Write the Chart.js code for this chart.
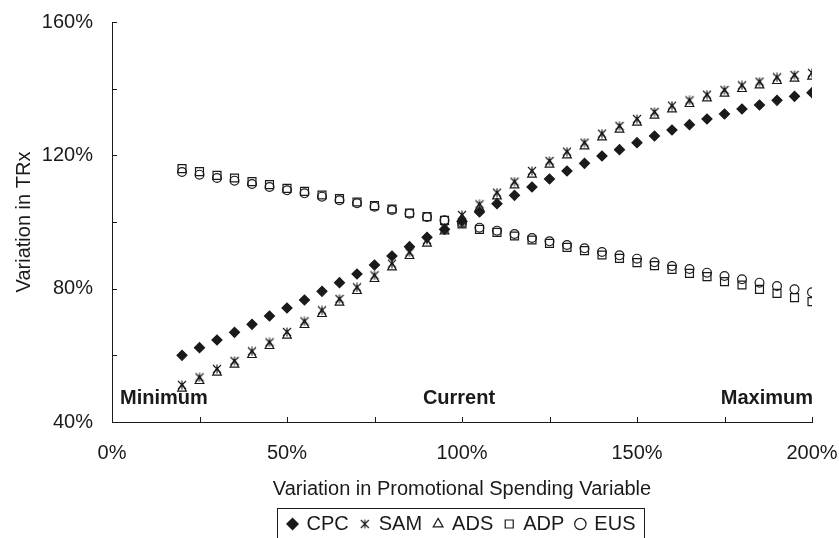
<!DOCTYPE html>
<html>
<head>
<meta charset="utf-8">
<script src="https://cdn.jsdelivr.net/npm/chart.js@4.4.1/dist/chart.umd.min.js"></script>
<style>
  html, body { margin: 0; padding: 0; background: #fff; }
  #wrap { width: 839px; height: 538px; }
</style>
</head>
<body>
<div id="wrap"><canvas id="chart" width="839" height="538"></canvas></div>
<script>
// --- Data (percent values) ---
const SPEND_LEVELS = [20, 25, 30, 35, 40, 45, 50, 55, 60, 65, 70, 75, 80, 85, 90, 95, 100,
  105, 110, 115, 120, 125, 130, 135, 140, 145, 150, 155, 160, 165, 170, 175, 180, 185, 190, 195, 200];

const CPC = [60.0, 62.3, 64.6, 66.9, 69.3, 71.8, 74.2, 76.6, 79.2, 81.8, 84.4, 87.1, 89.8, 92.6, 95.4, 97.8, 100.2,
  103.0, 105.5, 108.0, 110.5, 112.9, 115.3, 117.6, 119.8, 121.7, 123.8, 125.8, 127.6, 129.2, 130.9, 132.4, 133.9, 135.1, 136.5, 137.7, 138.8];

const SAM = [51.1, 53.4, 55.9, 58.3, 61.2, 63.9, 67.0, 70.2, 73.5, 76.9, 80.4, 84.0, 87.5, 90.9, 94.6, 98.3, 102.1,
  105.3, 108.8, 112.1, 115.3, 118.3, 121.1, 123.8, 126.5, 128.8, 130.9, 133.0, 134.9, 136.5, 138.2, 139.6, 141.0, 142.1, 143.4, 144.1, 144.7];

const ADS = [50.0, 52.3, 54.8, 57.2, 60.1, 62.8, 65.9, 69.1, 72.4, 75.8, 79.3, 82.9, 86.4, 89.8, 93.5, 97.2, 101.0,
  104.2, 107.7, 111.0, 114.2, 117.2, 120.0, 122.7, 125.4, 127.7, 129.8, 131.9, 133.8, 135.4, 137.1, 138.5, 139.9, 141.0, 142.3, 143.0, 143.6];

const ADP = [116.0, 115.1, 114.0, 113.2, 112.1, 111.2, 110.1, 109.2, 108.1, 107.0, 106.0, 104.9, 103.9, 102.7, 101.6, 100.5, 99.4,
  97.8, 96.9, 95.8, 94.6, 93.6, 92.4, 91.4, 90.1, 89.1, 87.8, 86.9, 85.8, 84.6, 83.6, 82.1, 81.1, 79.8, 78.6, 77.3, 76.1];

const EUS = [115.0, 114.2, 113.2, 112.4, 111.4, 110.5, 109.5, 108.6, 107.6, 106.5, 105.6, 104.6, 103.6, 102.5, 101.5, 100.5, 99.8,
  98.3, 97.4, 96.4, 95.2, 94.2, 93.1, 92.1, 91.0, 90.0, 89.0, 87.9, 86.8, 85.9, 84.8, 83.8, 82.8, 81.8, 80.8, 79.8, 78.9];

const SERIES_NAMES = ['CPC', 'SAM', 'ADS', 'ADP', 'EUS'];

// region labels drawn inside the plot: [text, x value, alignment]
const REGION_LABELS = [['Minimum', 0, 'left'], ['Current', 100, 'center'], ['Maximum', 200, 'right']];
const REGION_LABEL_Y = 47.1;

const FONT = '"Liberation Sans", Arial, Helvetica, sans-serif';
const INK = '#1a1a1a';

function toPoints(values) {
  return SPEND_LEVELS.map((x, i) => ({ x: x, y: values[i] }));
}

// --- SAM marker: an X with a vertical stroke ---
function makeSamMarker(size) {
  const c = document.createElement('canvas');
  c.width = size; c.height = size;
  const g = c.getContext('2d');
  g.strokeStyle = INK;
  g.lineWidth = 1.1;
  g.beginPath();
  g.moveTo(1, 1); g.lineTo(size - 1, size - 1);
  g.moveTo(size - 1, 1); g.lineTo(1, size - 1);
  g.moveTo(size / 2, 0.5); g.lineTo(size / 2, size - 0.5);
  g.stroke();
  return c;
}

// --- Plugins ---
const TICK_LEN = 5;
const inwardTicks = {
  id: 'inwardTicks',
  afterDatasetsDraw(chart) {
    const { ctx, chartArea: a } = chart;
    const xs = chart.scales.x, ys = chart.scales.y;
    ctx.save();
    ctx.strokeStyle = INK;
    ctx.lineWidth = 1;
    ctx.beginPath();
    xs.ticks.forEach(t => {
      const px = Math.round(xs.getPixelForValue(t.value)) + 0.5;
      ctx.moveTo(px, a.bottom);
      ctx.lineTo(px, a.bottom - TICK_LEN);
    });
    ys.ticks.forEach(t => {
      const py = Math.round(ys.getPixelForValue(t.value)) + 0.5;
      ctx.moveTo(a.left, py);
      ctx.lineTo(a.left + TICK_LEN, py);
    });
    ctx.stroke();
    ctx.restore();
  }
};

const regionLabels = {
  id: 'regionLabels',
  afterDatasetsDraw(chart) {
    const { ctx } = chart;
    const xs = chart.scales.x, ys = chart.scales.y;
    ctx.save();
    ctx.font = 'bold 20px ' + FONT;
    ctx.fillStyle = INK;
    ctx.textBaseline = 'middle';
    const py = ys.getPixelForValue(REGION_LABEL_Y);
    REGION_LABELS.forEach(([text, xv, align]) => {
      let px = xs.getPixelForValue(xv);
      if (align === 'left') px += 8;
      if (align === 'center') px -= 3;
      if (align === 'right') px += 1;
      ctx.textAlign = align;
      ctx.fillText(text, px, py);
    });
    ctx.restore();
  }
};

// move the legend: centred under the plot area, a little lower
const LEGEND_DY = 6;
const legendShift = {
  id: 'legendShift',
  afterLayout(chart) {
    const lg = chart.legend;
    if (!lg) return;
    const dx = (chart.chartArea.left + chart.chartArea.right) / 2 - (lg.left + lg.right) / 2;
    lg.left += dx;
    lg.right += dx;
    lg.top += LEGEND_DY;
    lg.bottom += LEGEND_DY;
  }
};

// box around the legend row
const legendBox = {
  id: 'legendBox',
  afterDraw(chart) {
    const lg = chart.legend;
    if (!lg || !lg.lineWidths) return;
    const pad = lg.options.labels.padding;
    const rowW = lg.lineWidths[0];
    const start = ((lg.left + pad) + (lg.right - rowW)) / 2;
    const l = start - 12;
    const r = start + rowW - pad + 8;
    const t = lg.top + pad - 6;
    const ctx = chart.ctx;
    ctx.save();
    ctx.strokeStyle = INK;
    ctx.lineWidth = 1;
    ctx.strokeRect(Math.round(l) + 0.5, Math.round(t) + 0.5, Math.round(r - l), chart.height - Math.round(t) + 4);
    ctx.restore();
  }
};

// --- Chart ---
const samMarker = makeSamMarker(10);
const pointStyles = ['rectRot', samMarker, 'triangle', 'rect', 'circle'];
const radii = [5, 5, 5, 5.6, 4.4];
const fills = [INK, 'rgba(0,0,0,0)', 'rgba(0,0,0,0)', 'rgba(0,0,0,0)', 'rgba(0,0,0,0)'];
const seriesValues = [CPC, SAM, ADS, ADP, EUS];

const datasets = SERIES_NAMES.map((name, i) => ({
  label: name,
  data: toPoints(seriesValues[i]),
  pointStyle: pointStyles[i],
  pointRadius: radii[i],
  pointBorderWidth: 1.2,
  borderColor: INK,
  backgroundColor: fills[i],
  pointBackgroundColor: fills[i],
  pointBorderColor: INK,
  showLine: false
}));

Chart.defaults.font.family = FONT;
Chart.defaults.color = INK;

new Chart(document.getElementById('chart'), {
  type: 'scatter',
  data: { datasets: datasets },
  options: {
    responsive: false,
    animation: false,
    layout: { padding: { left: 0, right: 27, top: 22, bottom: 0 } },
    plugins: {
      tooltip: { enabled: false },
      legend: {
        position: 'bottom',
        labels: {
          usePointStyle: true,
          boxWidth: 8,
          boxHeight: 8,
          padding: 12,
          color: INK,
          font: { size: 20, family: FONT }
        }
      }
    },
    scales: {
      x: {
        type: 'linear',
        min: 0, max: 200,
        grid: { display: false, drawTicks: false },
        border: { display: true, color: INK, width: 1 },
        ticks: {
          stepSize: 25,
          padding: 19,
          color: INK,
          font: { size: 20 },
          maxRotation: 0,
          callback: v => (v % 50 === 0 ? v + '%' : '')
        },
        title: {
          display: true,
          text: 'Variation in Promotional Spending Variable',
          color: INK,
          font: { size: 20, lineHeight: 1 },
          padding: { top: 0, bottom: -3 }
        },
        afterFit: s => { s.height = 74; s.paddingLeft = 0; s.paddingRight = 0; }
      },
      y: {
        type: 'linear',
        min: 40, max: 160,
        grid: { display: false, drawTicks: false },
        border: { display: true, color: INK, width: 1 },
        ticks: {
          stepSize: 20,
          padding: 19,
          color: INK,
          font: { size: 20 },
          callback: v => (v % 40 === 0 ? v + '%' : '')
        },
        title: {
          display: true,
          text: 'Variation in TRx',
          color: INK,
          font: { size: 20 },
          padding: { top: 12, bottom: 4 }
        },
        afterFit: s => { s.width = 112; s.paddingTop = 0; s.paddingBottom = 0; }
      }
    }
  },
  plugins: [inwardTicks, regionLabels, legendShift, legendBox]
});
</script>
</body>
</html>
